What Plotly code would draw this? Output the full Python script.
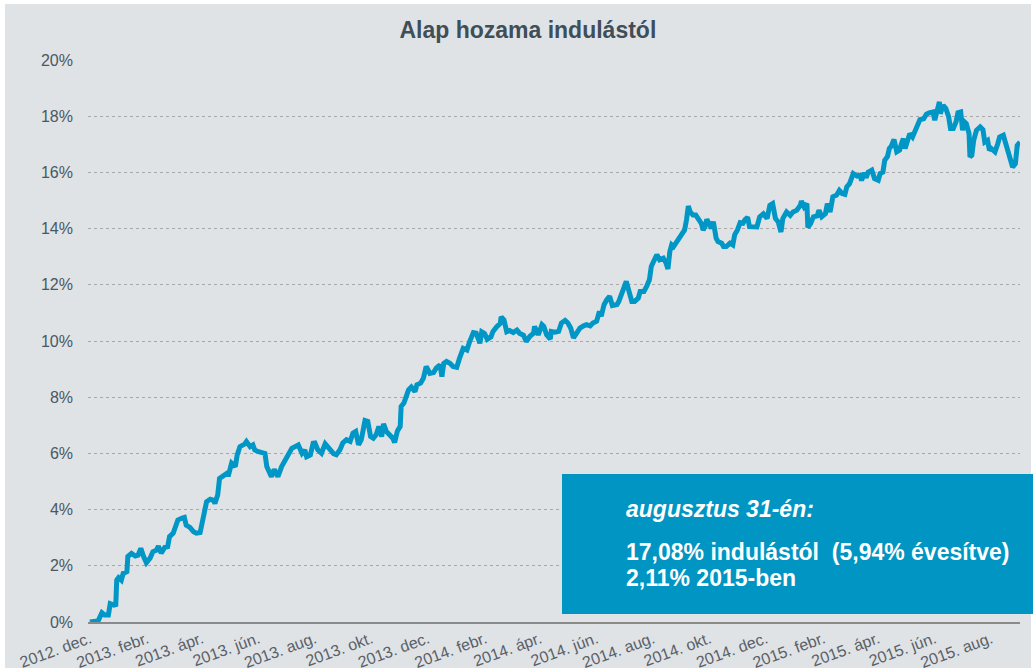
import pandas as pd
import plotly.graph_objects as go

start_date = "2012-12-01"

# days since start date, and fund return since launch (%)
days = [0, 9, 13, 16, 20, 22, 26, 28, 29, 31, 34, 36, 40, 41, 45, 49, 52, 55, 58, 61,
        65, 68, 72, 74, 77, 81, 84, 86, 90, 92, 95, 99, 102, 104, 108, 112, 115, 119, 121, 123,
        126, 130, 133, 135, 138, 140, 144, 148, 150, 153, 157, 159, 162, 167, 169, 173, 176, 178, 182, 185,
        189, 191, 194, 196, 199, 203, 207, 211, 214, 218, 222, 225, 229, 232, 234, 238, 241,
        243, 246, 250, 254, 257, 261, 263, 266, 270, 273, 277, 281, 284, 287, 290, 293, 297, 300,
        303, 306, 309, 312, 315, 317, 320, 324, 327, 329, 332, 335, 336, 339, 342, 344, 347, 351, 353, 357,
        360, 363, 367, 371, 374, 378, 380, 382, 385, 389, 392, 396, 399, 403, 407, 408, 410, 414, 417, 421,
        423, 426, 429, 433, 435, 439, 443, 444, 447, 450, 453, 457, 461, 464, 468, 471,
        475, 479, 480, 484, 488, 490, 493, 497, 498, 502, 506, 509, 513, 516, 519, 522, 525, 529, 533, 536,
        540, 543, 547, 550, 552, 555, 558, 561, 564, 569, 571, 574, 576, 579, 581, 585, 588, 592, 594, 598,
        601, 604, 606, 610, 612, 615, 619, 622, 624, 626, 628, 630, 633, 636, 639, 642, 644, 646, 648, 651,
        654, 657, 660, 662, 664, 666, 669, 671, 673, 676, 678, 682, 684, 687, 691, 694, 696, 699, 702, 705,
        707, 710, 712, 716, 720, 723, 727, 731, 734, 737, 740, 743, 746, 748, 752, 756, 759, 763, 767, 768,
        771, 774, 775, 778, 781, 785, 787, 790, 794, 796, 799, 802, 806, 809, 812, 815, 817, 820, 824, 828,
        831, 833, 836, 838, 840, 844, 847, 851, 853, 856, 858, 861, 863, 865, 868, 871, 874, 876, 878, 880,
        882, 885, 888, 891, 893, 896, 900, 903, 906, 910, 912, 915, 917, 918, 921, 924, 927, 929, 932, 935,
        937, 940, 942, 944, 946, 949, 950, 952, 954, 957, 961, 964, 966, 969, 971, 973, 977, 980, 982, 986,
        990, 993, 996, 999, 1001, 1004]

returns = [0.0, 0.04, 0.33, 0.25, 0.25, 0.65, 0.6, 0.62, 1.49, 1.58, 1.49, 1.73, 1.79, 2.33, 2.44, 2.35, 2.38, 2.62, 2.33, 2.11,
           2.27, 2.50, 2.56, 2.70, 2.45, 2.66, 2.68, 3.04, 3.16, 3.42, 3.63, 3.69, 3.72, 3.45, 3.37, 3.21, 3.16, 3.18, 3.57, 3.75,
           4.28, 4.37, 4.34, 4.22, 4.52, 5.11, 5.23, 5.29, 5.27, 5.65, 5.53, 5.94, 6.24, 6.33, 6.42, 6.24, 6.30, 6.12, 6.06, 6.03,
           6.0, 5.53, 5.35, 5.17, 5.43, 5.17, 5.53, 5.82, 5.94, 6.18, 6.26, 6.30, 6.0, 6.12, 5.88, 5.94, 6.36,
           6.37, 6.13, 6.01, 6.34, 6.25, 6.07, 5.99, 5.95, 6.13, 6.37, 6.49, 6.43, 6.72, 6.78, 6.31, 6.49, 7.17, 7.14,
           6.6, 6.54, 6.66, 6.96, 6.6, 7.05, 6.78, 6.66, 6.54, 6.39, 6.8, 6.96, 7.67, 7.79, 8.02, 8.26, 8.36, 8.20, 8.44, 8.5,
           8.67, 9.09, 8.85, 8.88, 9.04, 9.15, 8.73, 9.2, 9.27, 9.2, 9.09, 9.06, 9.38, 9.74, 9.68, 9.86, 9.98, 10.3, 10.28, 9.92,
           10.33, 10.27, 10.06, 10.15, 10.33, 10.5, 10.63, 10.86, 10.75, 10.33, 10.37, 10.30, 10.39, 10.27, 10.21, 9.98,
           10.17, 10.28, 10.52, 10.22, 10.58, 10.52, 10.22, 10.07, 10.34, 10.31, 10.34, 10.64, 10.73, 10.64, 10.46, 10.11, 10.28, 10.46, 10.54, 10.58,
           10.54, 10.64, 10.70, 11.05, 10.88, 11.29, 11.47, 11.59, 11.26, 11.30, 11.41, 11.70, 11.94, 12.12, 11.88, 11.41, 11.41, 11.53, 11.76, 11.76,
           11.94, 12.18, 12.65, 12.95, 13.07, 12.89, 12.95, 12.77, 12.56, 13.18, 13.42, 13.36, 13.50, 13.60, 13.81, 13.95, 14.31, 14.80, 14.60, 14.48,
           14.48, 14.36, 14.19, 13.95, 14.07, 14.33, 14.13, 14.01, 14.25, 13.66, 13.54, 13.48, 13.36, 13.36, 13.48, 13.42, 13.78, 13.95, 14.21, 14.19,
           14.31, 14.40, 14.07, 14.06, 14.06, 14.42, 14.53, 14.36, 14.83, 14.89, 14.36, 14.24, 13.88, 14.36, 14.59, 14.47, 14.59, 14.65, 14.83, 14.98,
           14.77, 14.89, 14.04, 14.18, 14.42, 14.45, 14.65, 14.42, 14.53, 14.89, 14.59, 15.13, 15.19, 15.36, 15.25, 15.22, 15.48, 15.60, 15.96, 15.87,
           15.90, 15.72, 15.98, 15.81, 16.01, 16.08, 15.78, 15.72, 15.96, 16.01, 16.43, 16.57, 16.85, 16.93, 17.17, 16.73, 16.79, 17.02, 17.20, 16.85,
           17.02, 17.38, 17.26, 17.50, 17.74, 17.88, 17.91, 18.07, 18.12, 18.15, 17.86, 18.33, 18.51, 18.09, 18.39, 18.27, 17.98, 17.56, 17.56, 17.80,
           18.12, 18.15, 17.50, 17.80, 17.74, 17.38, 16.55, 16.61, 17.14, 17.50, 17.62, 17.52, 17.08, 17.14, 16.79, 16.85, 16.73, 17.02, 17.26, 17.32,
           16.85, 16.43, 16.19, 16.31, 16.96, 17.08]

tick_dates = ["2012-12-01", "2013-02-01", "2013-04-01", "2013-06-01", "2013-08-01", "2013-10-01",
              "2013-12-01", "2014-02-01", "2014-04-01", "2014-06-01", "2014-08-01", "2014-10-01",
              "2014-12-01", "2015-02-01", "2015-04-01", "2015-06-01", "2015-08-01"]
tick_labels = ["2012. dec.", "2013. febr.", "2013. ápr.", "2013. jún.", "2013. aug.", "2013. okt.",
               "2013. dec.", "2014. febr.", "2014. ápr.", "2014. jún.", "2014. aug.", "2014. okt.",
               "2014. dec.", "2015. febr.", "2015. ápr.", "2015. jún.", "2015. aug."]

title_text = "Alap hozama indulástól"
note_head = "augusztus 31-én:"
note_line1 = "17,08% indulástól  (5,94% évesítve)"
note_line2 = "2,11% 2015-ben"

t0 = pd.Timestamp(start_date)
dates = [t0 + pd.Timedelta(days=d) for d in days]

BG = "#dfe3e6"
LINE = "#0096c6"
BOX = "#0095c2"

fig = go.Figure()
fig.add_trace(go.Scatter(x=dates, y=returns, mode="lines",
                         line=dict(color=LINE, width=5), hoverinfo="skip", showlegend=False))

W, H = 1035, 668
L, R, T, B = 88, 15, 60, 46
pw, ph = W - L - R, H - T - B

def px(x):
    return (x - L) / pw

def py(y):
    return (H - B - y) / ph

fig.update_layout(
    width=W, height=H,
    margin=dict(l=L, r=R, t=T, b=B, autoexpand=False),
    paper_bgcolor="white",
    plot_bgcolor=BG,
    font=dict(family="Liberation Sans, Arial, sans-serif", color="#4a5862"),
    title=dict(text="<b>" + title_text + "</b>", x=0.51, xanchor="center", y=1 - 30 / H, yanchor="middle",
               font=dict(size=23, color="#404e58")),
    xaxis=dict(type="date", automargin=False,
               range=[t0 - pd.Timedelta(days=2), t0 + pd.Timedelta(days=1004)],
               tickvals=tick_dates, ticktext=tick_labels, tickangle=-20,
               tickfont=dict(size=16, color="#5a6066"),
               showgrid=False, showline=True, linecolor="#8a8a8a", linewidth=1.5,
               ticks="", zeroline=False, fixedrange=True),
    yaxis=dict(range=[0, 20], dtick=2, ticksuffix="%", tickfont=dict(size=16, color="#4a5862"),
               showgrid=True, gridcolor="#a8a8a8", griddash="dot", gridwidth=1, automargin=False,
               zeroline=False, showline=False, ticks="", ticklabelstandoff=14),
    shapes=[
        dict(type="rect", xref="paper", yref="paper", layer="below",
             x0=px(5), x1=px(1031), y0=py(668), y1=py(4), fillcolor=BG, line=dict(width=0)),
        dict(type="rect", xref="paper", yref="paper", layer="above",
             x0=px(562), x1=px(1033), y0=py(614), y1=py(474), fillcolor=BOX, line=dict(width=0)),
    ],
    annotations=[
        dict(text="<b><i>" + note_head + "</i></b>", xref="paper", yref="paper", x=px(624), y=py(509),
             xanchor="left", yanchor="middle", showarrow=False, font=dict(size=23, color="white")),
        dict(text="<b>" + note_line1 + "</b>", xref="paper", yref="paper", x=px(624), y=py(552),
             xanchor="left", yanchor="middle", showarrow=False, font=dict(size=23, color="white")),
        dict(text="<b>" + note_line2 + "</b>", xref="paper", yref="paper", x=px(624), y=py(578),
             xanchor="left", yanchor="middle", showarrow=False, font=dict(size=23, color="white")),
    ],
)

fig.write_html("out.html", config={"displayModeBar": False},
               post_script="document.body.style.margin='0';document.body.style.overflow='hidden';")
